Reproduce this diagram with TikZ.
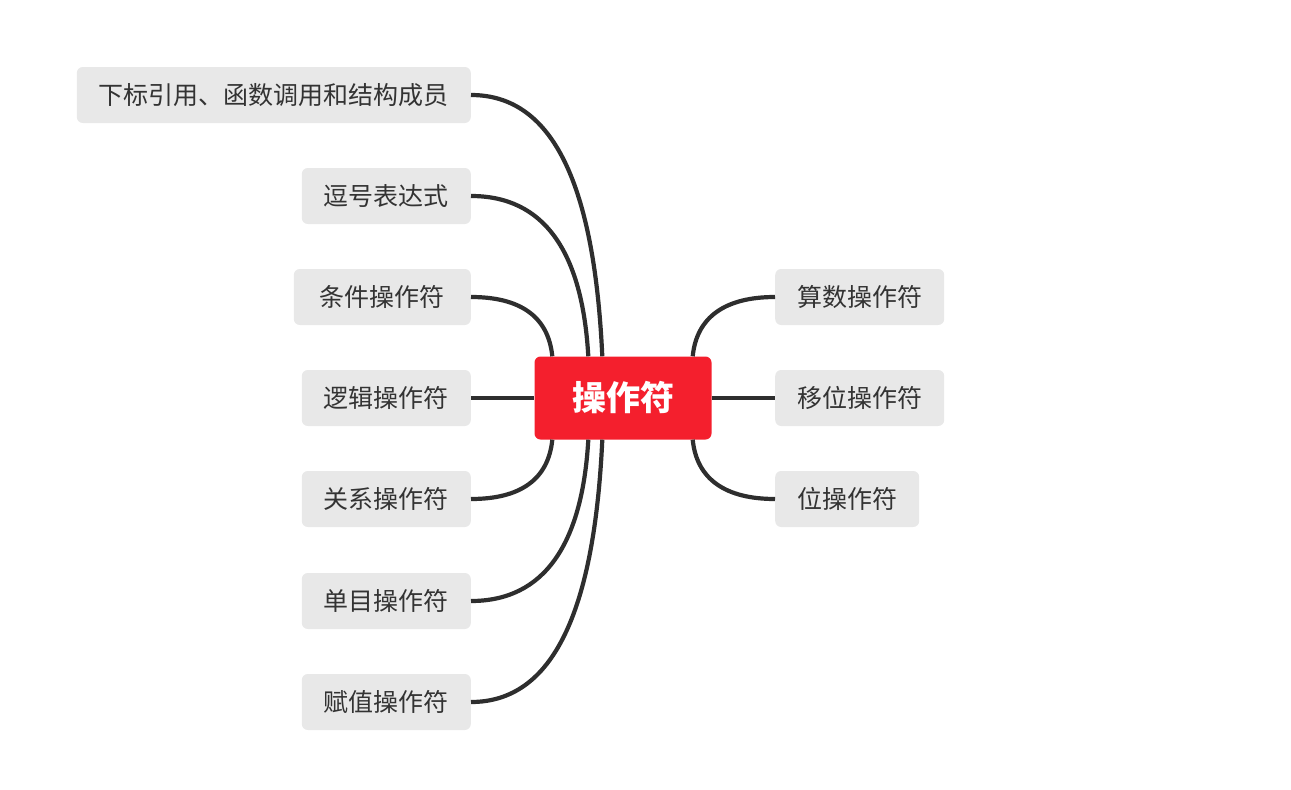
\documentclass[tikz,border=0pt]{standalone}
\usepackage{fontspec}
\setmainfont{Noto Sans CJK SC}
\usepackage{tikz}
\definecolor{topicred}{HTML}{F41F2D}
\definecolor{subgray}{HTML}{E8E8E8}
\definecolor{textgray}{HTML}{333333}
\definecolor{linegray}{HTML}{2E2E2E}

\begin{document}
\begin{tikzpicture}[x=1pt,y=-1pt,
topic/.style={fill=topicred, rounded corners=6pt, minimum width=177pt, minimum height=83pt, text=white, font=\fontsize{34}{40}\selectfont\bfseries},
sub/.style={fill=subgray, rounded corners=6pt, minimum height=56pt, inner sep=0pt, text=textgray, font=\fontsize{25}{30}\selectfont},
link/.style={draw=linegray, line width=4.2pt}]

\useasboundingbox (0,0) rectangle (1291,790);

\node[topic] (C) at (623,398) {操作符};

\node[sub, anchor=east, minimum width=394pt] (L1) at (471,95) {下标引用、函数调用和结构成员};
\node[sub, anchor=east, minimum width=169pt] (L2) at (471,196) {逗号表达式};
\node[sub, anchor=east, minimum width=177pt] (L3) at (471,297) {条件操作符};
\node[sub, anchor=east, minimum width=169pt] (L4) at (471,398) {逻辑操作符};
\node[sub, anchor=east, minimum width=169pt] (L5) at (471,499) {关系操作符};
\node[sub, anchor=east, minimum width=169pt] (L6) at (471,601) {单目操作符};
\node[sub, anchor=east, minimum width=169pt] (L7) at (471,702) {赋值操作符};

\node[sub, anchor=west, minimum width=169pt] (R1) at (775,297) {算数操作符};
\node[sub, anchor=west, minimum width=169pt] (R2) at (775,398) {移位操作符};
\node[sub, anchor=west, minimum width=144pt] (R3) at (775,499) {位操作符};

% left branches
\draw[link] (L1.east) .. controls +(82,0) and +(-8,-172) .. ([xshift=68pt]C.north west);
\draw[link] (L2.east) .. controls +(73,0) and +(-6,-105) .. ([xshift=54pt]C.north west);
\draw[link] (L3.east) .. controls +(49,0) and +(-4,-40) .. ([xshift=18pt]C.north west);
\draw[link] (L4.east) -- (C.west);
\draw[link] (L5.east) .. controls +(49,0) and +(-4,40) .. ([xshift=18pt]C.south west);
\draw[link] (L6.east) .. controls +(73,0) and +(-6,105) .. ([xshift=54pt]C.south west);
\draw[link] (L7.east) .. controls +(82,0) and +(-8,172) .. ([xshift=68pt]C.south west);

% right branches
\draw[link] ([xshift=-19pt]C.north east) .. controls +(4,-40) and +(-49,0) .. (R1.west);
\draw[link] (C.east) -- (R2.west);
\draw[link] ([xshift=-19pt]C.south east) .. controls +(4,40) and +(-49,0) .. (R3.west);
\end{tikzpicture}
\end{document}
